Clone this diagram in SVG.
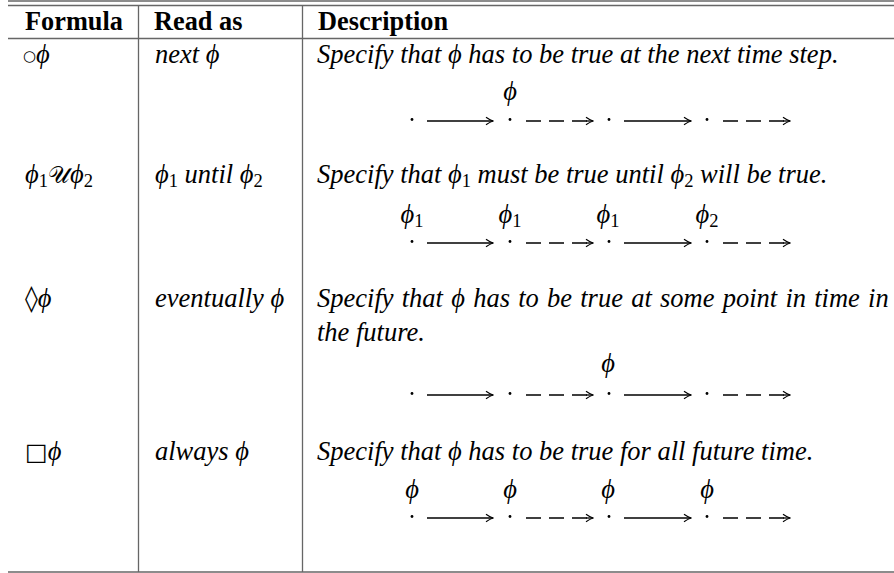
<svg xmlns="http://www.w3.org/2000/svg" width="894" height="573" viewBox="0 0 894 573">
<defs>
<style>
.rule{stroke:#666;stroke-width:1.3;fill:none}
.hd{font-family:'Liberation Serif',serif;font-weight:bold;font-size:26.3px;fill:#000}
.tx{font-family:'Liberation Serif',serif;font-style:italic;font-size:26.5px;fill:#000}
.sb{font-style:normal;font-size:18.5px}
.sym{font-family:'DejaVu Sans',sans-serif;font-style:normal}
.arr{stroke:#000;stroke-width:1.3;fill:none}
.dash{stroke:#000;stroke-width:1.3;fill:none;stroke-dasharray:15 8}
.dot{fill:#000}
</style>
<marker id="ah" viewBox="-9 -5 10 10" refX="0" refY="0" markerWidth="10" markerHeight="10" markerUnits="userSpaceOnUse" orient="auto">
<path d="M-7,-3.8 Q-2.8,-0.9 0,0 Q-2.8,0.9 -7,3.8" stroke="#000" stroke-width="1.2" fill="none"/>
</marker>
</defs>
<rect width="894" height="573" fill="#fff"/>
<g id="table-rules">
<line class="rule" x1="8" y1="1" x2="894" y2="1" stroke-width="2.2"/>
<line class="rule" x1="8" y1="5.5" x2="894" y2="5.5"/>
<line class="rule" x1="8" y1="38.5" x2="894" y2="38.5"/>
<line class="rule" x1="8" y1="572" x2="894" y2="572"/>
<line class="rule" x1="138.5" y1="5" x2="138.5" y2="572"/>
<line class="rule" x1="302.5" y1="5" x2="302.5" y2="572"/>
</g>
<g id="header">
<text class="hd" x="25" y="30">Formula</text>
<text class="hd" x="154" y="30">Read as</text>
<text class="hd" x="318" y="30">Description</text>
</g>
<g id="row-next">
<text class="tx" x="23" y="63"><tspan class="sym" font-size="15" dy="-2">○</tspan><tspan dy="2">ϕ</tspan></text>
<text class="tx" x="155" y="63">next ϕ</text>
<text class="tx" x="317" y="63">Specify that ϕ has to be true at the next time step.</text>
<text class="tx" x="510" y="100" text-anchor="middle">ϕ</text>
</g>
<g id="row-until">
<text class="tx" x="25" y="183">ϕ<tspan class="sb" dy="4">1</tspan><tspan class="sym" dy="-4" font-size="24">𝒰</tspan>ϕ<tspan class="sb" dy="4">2</tspan></text>
<text class="tx" x="155" y="183">ϕ<tspan class="sb" dy="4">1</tspan><tspan dy="-4"> until ϕ</tspan><tspan class="sb" dy="4">2</tspan></text>
<text class="tx" x="317" y="183">Specify that ϕ<tspan class="sb" dy="4">1</tspan><tspan dy="-4"> must be true until ϕ</tspan><tspan class="sb" dy="4">2</tspan><tspan dy="-4"> will be true.</tspan></text>
<text class="tx" x="412" y="223" text-anchor="middle">ϕ<tspan class="sb" dy="4">1</tspan></text>
<text class="tx" x="510" y="223" text-anchor="middle">ϕ<tspan class="sb" dy="4">1</tspan></text>
<text class="tx" x="608" y="223" text-anchor="middle">ϕ<tspan class="sb" dy="4">1</tspan></text>
<text class="tx" x="707" y="223" text-anchor="middle">ϕ<tspan class="sb" dy="4">2</tspan></text>
</g>
<g id="row-eventually">
<text class="tx" x="25" y="307"><tspan class="sym" font-size="26">◊</tspan>ϕ</text>
<text class="tx" x="155" y="307">eventually ϕ</text>
<text class="tx" x="317" y="307" word-spacing="1.6">Specify that ϕ has to be true at some point in time in</text>
<text class="tx" x="317" y="341">the future.</text>
<text class="tx" x="608" y="372" text-anchor="middle">ϕ</text>
</g>
<g id="row-always">
<text class="tx" x="25" y="460"><tspan class="sym" font-size="24">□</tspan>ϕ</text>
<text class="tx" x="155" y="460">always ϕ</text>
<text class="tx" x="317" y="460">Specify that ϕ has to be true for all future time.</text>
<text class="tx" x="412" y="498" text-anchor="middle">ϕ</text>
<text class="tx" x="510" y="498" text-anchor="middle">ϕ</text>
<text class="tx" x="608" y="498" text-anchor="middle">ϕ</text>
<text class="tx" x="707" y="498" text-anchor="middle">ϕ</text>
</g>
<g id="connectors">
<g id="tl1" transform="translate(0,121)">
<circle class="dot" cx="412" cy="-1.5" r="1.4"/><circle class="dot" cx="510" cy="-1.5" r="1.4"/><circle class="dot" cx="609" cy="-1.5" r="1.4"/><circle class="dot" cx="707" cy="-1.5" r="1.4"/>
<line class="arr" x1="427" y1="0" x2="493" y2="0" marker-end="url(#ah)"/>
<line class="dash" x1="526" y1="0" x2="593" y2="0"/><line class="arr" x1="586" y1="0" x2="593" y2="0" marker-end="url(#ah)"/>
<line class="arr" x1="624" y1="0" x2="691" y2="0" marker-end="url(#ah)"/>
<line class="dash" x1="723" y1="0" x2="790" y2="0"/><line class="arr" x1="783" y1="0" x2="790" y2="0" marker-end="url(#ah)"/>
</g>
<g id="tl2" transform="translate(0,243)">
<circle class="dot" cx="412" cy="-1.5" r="1.4"/><circle class="dot" cx="510" cy="-1.5" r="1.4"/><circle class="dot" cx="609" cy="-1.5" r="1.4"/><circle class="dot" cx="707" cy="-1.5" r="1.4"/>
<line class="arr" x1="427" y1="0" x2="493" y2="0" marker-end="url(#ah)"/>
<line class="dash" x1="526" y1="0" x2="593" y2="0"/><line class="arr" x1="586" y1="0" x2="593" y2="0" marker-end="url(#ah)"/>
<line class="arr" x1="624" y1="0" x2="691" y2="0" marker-end="url(#ah)"/>
<line class="dash" x1="723" y1="0" x2="790" y2="0"/><line class="arr" x1="783" y1="0" x2="790" y2="0" marker-end="url(#ah)"/>
</g>
<g id="tl3" transform="translate(0,395)">
<circle class="dot" cx="412" cy="-1.5" r="1.4"/><circle class="dot" cx="510" cy="-1.5" r="1.4"/><circle class="dot" cx="609" cy="-1.5" r="1.4"/><circle class="dot" cx="707" cy="-1.5" r="1.4"/>
<line class="arr" x1="427" y1="0" x2="493" y2="0" marker-end="url(#ah)"/>
<line class="dash" x1="526" y1="0" x2="593" y2="0"/><line class="arr" x1="586" y1="0" x2="593" y2="0" marker-end="url(#ah)"/>
<line class="arr" x1="624" y1="0" x2="691" y2="0" marker-end="url(#ah)"/>
<line class="dash" x1="723" y1="0" x2="790" y2="0"/><line class="arr" x1="783" y1="0" x2="790" y2="0" marker-end="url(#ah)"/>
</g>
<g id="tl4" transform="translate(0,518)">
<circle class="dot" cx="412" cy="-1.5" r="1.4"/><circle class="dot" cx="510" cy="-1.5" r="1.4"/><circle class="dot" cx="609" cy="-1.5" r="1.4"/><circle class="dot" cx="707" cy="-1.5" r="1.4"/>
<line class="arr" x1="427" y1="0" x2="493" y2="0" marker-end="url(#ah)"/>
<line class="dash" x1="526" y1="0" x2="593" y2="0"/><line class="arr" x1="586" y1="0" x2="593" y2="0" marker-end="url(#ah)"/>
<line class="arr" x1="624" y1="0" x2="691" y2="0" marker-end="url(#ah)"/>
<line class="dash" x1="723" y1="0" x2="790" y2="0"/><line class="arr" x1="783" y1="0" x2="790" y2="0" marker-end="url(#ah)"/>
</g>
</g>
</svg>
